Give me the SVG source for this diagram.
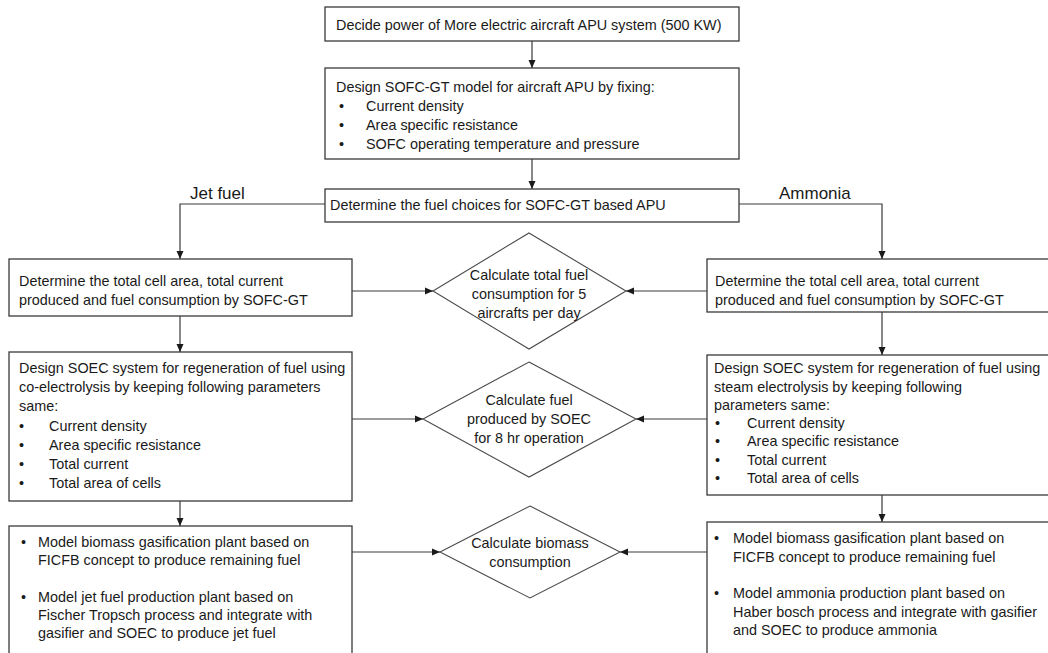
<svg xmlns="http://www.w3.org/2000/svg" width="1048" height="653" viewBox="0 0 1048 653">
  <defs>
    <marker id="arrow" markerUnits="userSpaceOnUse" markerWidth="8" markerHeight="8" viewBox="0 0 8 8" refX="8" refY="4" orient="auto">
      <path d="M0,0.5 L8,4 L0,7.5 Z" fill="#1a1a1a"/>
    </marker>
    <style>
      .box { fill: #ffffff; stroke: #3a3a3a; stroke-width: 1.3; }
      .dia { fill: #ffffff; stroke: #4a4a4a; stroke-width: 1.1; }
      .wire { fill: none; stroke: #3a3a3a; stroke-width: 1.2; }
      text { font-family: "Liberation Sans", Arial, sans-serif; font-size: 14.4px; fill: #1a1a1a; }
      .mid { text-anchor: middle; }
      .tag { font-size: 17px; }
    </style>
  </defs>
  <rect width="1048" height="653" fill="#ffffff"/>

  <!-- connectors -->
  <g id="connectors">
    <path class="wire" d="M532,41 V68" marker-end="url(#arrow)"/>
    <path class="wire" d="M532,159 V189" marker-end="url(#arrow)"/>
    <path class="wire" d="M325,204 H180 V259" marker-end="url(#arrow)"/>
    <path class="wire" d="M739,204 H882 V259" marker-end="url(#arrow)"/>
    <path class="wire" d="M180,316 V352" marker-end="url(#arrow)"/>
    <path class="wire" d="M882,312 V355" marker-end="url(#arrow)"/>
    <path class="wire" d="M180,501 V526" marker-end="url(#arrow)"/>
    <path class="wire" d="M882,495 V522" marker-end="url(#arrow)"/>
    <path class="wire" d="M352,291 H433" marker-end="url(#arrow)"/>
    <path class="wire" d="M707,291 H626" marker-end="url(#arrow)"/>
    <path class="wire" d="M352,419 H423" marker-end="url(#arrow)"/>
    <path class="wire" d="M707,419 H636" marker-end="url(#arrow)"/>
    <path class="wire" d="M352,552 H440" marker-end="url(#arrow)"/>
    <path class="wire" d="M707,552 H620" marker-end="url(#arrow)"/>
    <text class="tag" x="190" y="199">Jet fuel</text>
    <text class="tag" x="779" y="199">Ammonia</text>
  </g>

  <!-- top chain -->
  <g id="power">
    <rect class="box" x="325" y="7" width="414" height="34"/>
    <text x="336" y="30">Decide power of More electric aircraft APU system (500 KW)</text>
  </g>
  <g id="design-sofc">
    <rect class="box" x="325" y="68" width="414" height="91"/>
    <text x="336" y="92">Design SOFC-GT model for aircraft APU by fixing:</text>
    <text x="339" y="111">•</text><text x="366" y="111">Current density</text>
    <text x="339" y="130">•</text><text x="366" y="130">Area specific resistance</text>
    <text x="339" y="149">•</text><text x="366" y="149">SOFC operating temperature and pressure</text>
  </g>
  <g id="fuel-choice">
    <rect class="box" x="325" y="189" width="414" height="33"/>
    <text x="330" y="210">Determine the fuel choices for SOFC-GT based APU</text>
  </g>

  <!-- jet fuel branch -->
  <g id="jet-cell">
    <rect class="box" x="9" y="259" width="343" height="57"/>
    <text x="19" y="286">Determine the total cell area, total current</text>
    <text x="19" y="305">produced and fuel consumption by SOFC-GT</text>
  </g>
  <g id="jet-soec">
    <rect class="box" x="9" y="352" width="343" height="149"/>
    <text x="19" y="373">Design SOEC system for regeneration of fuel using</text>
    <text x="19" y="392">co-electrolysis by keeping following parameters</text>
    <text x="19" y="411">same:</text>
    <text x="19" y="431">•</text><text x="49" y="431">Current density</text>
    <text x="19" y="450">•</text><text x="49" y="450">Area specific resistance</text>
    <text x="19" y="469">•</text><text x="49" y="469">Total current</text>
    <text x="19" y="488">•</text><text x="49" y="488">Total area of cells</text>
  </g>
  <g id="jet-plant">
    <rect class="box" x="9" y="526" width="343" height="140"/>
    <text x="21" y="547">•</text><text x="38" y="547">Model biomass gasification plant based on</text>
    <text x="38" y="565">FICFB concept to produce remaining fuel</text>
    <text x="21" y="602">•</text><text x="38" y="602">Model jet fuel production plant based on</text>
    <text x="38" y="620">Fischer Tropsch process and integrate with</text>
    <text x="38" y="638">gasifier and SOEC to produce jet fuel</text>
  </g>

  <!-- ammonia branch -->
  <g id="nh3-cell">
    <rect class="box" x="707" y="259" width="350" height="53"/>
    <text x="715" y="286">Determine the total cell area, total current</text>
    <text x="715" y="305">produced and fuel consumption by SOFC-GT</text>
  </g>
  <g id="nh3-soec">
    <rect class="box" x="707" y="355" width="350" height="140"/>
    <text x="714" y="373">Design SOEC system for regeneration of fuel using</text>
    <text x="714" y="392">steam electrolysis by keeping following</text>
    <text x="714" y="410">parameters same:</text>
    <text x="715" y="428">•</text><text x="747" y="428">Current density</text>
    <text x="715" y="446">•</text><text x="747" y="446">Area specific resistance</text>
    <text x="715" y="465">•</text><text x="747" y="465">Total current</text>
    <text x="715" y="483">•</text><text x="747" y="483">Total area of cells</text>
  </g>
  <g id="nh3-plant">
    <rect class="box" x="707" y="522" width="350" height="140"/>
    <text x="714" y="543">•</text><text x="733" y="543">Model biomass gasification plant based on</text>
    <text x="733" y="562">FICFB concept to produce remaining fuel</text>
    <text x="714" y="598">•</text><text x="733" y="598">Model ammonia production plant based on</text>
    <text x="733" y="617">Haber bosch process and integrate with gasifier</text>
    <text x="733" y="635">and SOEC to produce ammonia</text>
  </g>

  <!-- calculation steps -->
  <g id="calc-consumption">
    <polygon class="dia" points="529,233 626,291 529,349 433,291"/>
    <text class="mid" x="529" y="280">Calculate total fuel</text>
    <text class="mid" x="529" y="299">consumption for 5</text>
    <text class="mid" x="529" y="318">aircrafts per day</text>
  </g>
  <g id="calc-produced">
    <polygon class="dia" points="529,362 636,419 529,477 423,419"/>
    <text class="mid" x="529" y="405">Calculate fuel</text>
    <text class="mid" x="529" y="424">produced by SOEC</text>
    <text class="mid" x="529" y="443">for 8 hr operation</text>
  </g>
  <g id="calc-biomass">
    <polygon class="dia" points="530,506 620,552 530,598 440,552"/>
    <text class="mid" x="530" y="548">Calculate biomass</text>
    <text class="mid" x="530" y="567">consumption</text>
  </g>
</svg>
